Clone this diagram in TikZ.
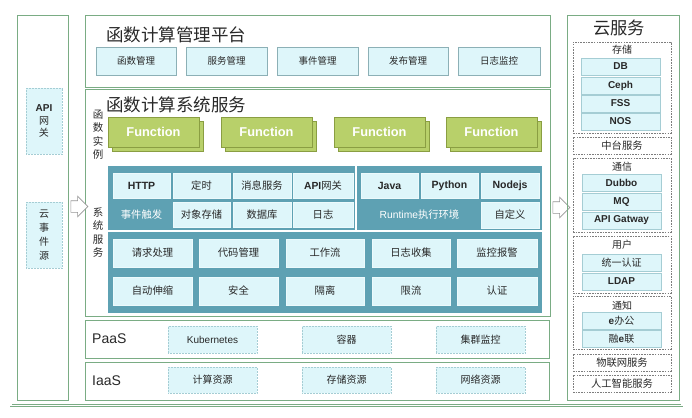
\documentclass[tikz,border=0pt]{standalone}
\usepackage{fontspec}
\setmainfont{Liberation Sans}
\newfontfamily\cjk{Noto Sans CJK SC}
\usetikzlibrary{shapes.arrows}
\definecolor{fg}{RGB}{122,172,132}
\definecolor{lc}{RGB}{222,246,250}
\definecolor{lcb}{RGB}{165,205,212}
\definecolor{mbd}{RGB}{140,176,182}
\definecolor{cellb}{RGB}{236,250,252}
\definecolor{teal2}{RGB}{94,161,179}
\definecolor{fn}{RGB}{184,208,106}
\definecolor{fnb}{RGB}{138,158,66}
\definecolor{txt}{RGB}{40,40,40}
\definecolor{dg}{RGB}{125,125,125}
\definecolor{ag}{RGB}{150,150,150}
\newcommand\zhtxt[1]{{\cjk\mdseries #1}}
\newcommand\rbox[7]{%
  \pgfmathsetmacro\rbw{#5-#3}\pgfmathsetmacro\rbh{#6-#4}%
  \pgfmathsetmacro\rbx{(#3+#5)/2}\pgfmathsetmacro\rby{(#4+#6)/2}%
  \node[#1,minimum width=\rbw pt,minimum height=\rbh pt] (#2) at (\rbx,\rby) {#7};}
\begin{document}
\begin{tikzpicture}[x=1pt,y=-1pt,
  every node/.style={text=txt, inner sep=1pt},
  dframe/.style={draw=fg, double=white, double distance=1.3pt, line width=0.6pt},
  frame/.style={draw=fg, line width=0.9pt},
  sidebox/.style={fill=lc, draw=lcb, densely dotted, line width=0.5pt, align=center},
  mbox/.style={fill=lc, draw=mbd, line width=0.5pt, font=\cjk\fontsize{9.5}{11}\selectfont},
  band/.style={fill=teal2, draw=none},
  cell/.style={fill=lc, draw=cellb, line width=0.4pt, font=\cjk\fontsize{10.3}{12}\selectfont},
  ecell/.style={cell, font=\bfseries\fontsize{10.5}{12}\selectfont},
  wtext/.style={text=white, font=\cjk\fontsize{10.3}{12}\selectfont},
  fnbox/.style={fill=fn, draw=fnb, line width=0.5pt, text=white, font=\bfseries\fontsize{12.8}{14}\selectfont},
  fnshadow/.style={fill=fn, draw=fnb, line width=0.5pt},
  pbox/.style={fill=lc, draw=lcb, densely dotted, line width=0.5pt, font=\cjk\fontsize{10}{12}\selectfont},
  grp/.style={draw=dg, dash pattern=on 1.6pt off 1.1pt, line width=0.5pt, font=\cjk\fontsize{10.3}{12}\selectfont},
  glabel/.style={font=\cjk\fontsize{10}{12}\selectfont, inner sep=0},
  cbox/.style={fill=lc, draw=lcb, line width=0.5pt, font=\bfseries\fontsize{10}{12}\selectfont},
  vlabel/.style={font=\cjk\fontsize{10.5}{13.5}\selectfont, align=center, inner sep=0},
  title/.style={font=\cjk\fontsize{17.5}{20}\selectfont, inner sep=0},
  hollow/.style={single arrow, draw=ag, fill=white, line width=0.6pt, inner xsep=0pt, inner ysep=5.5pt, minimum height=17pt, single arrow head extend=4.5pt}
]
\useasboundingbox (0,0) rectangle (692,417);

% outer frame and left column
\rbox{dframe}{outer}{11}{13}{682}{405.5}{}
\rbox{frame}{leftcol}{17}{15}{68}{400}{}
\rbox{sidebox,font=\fontsize{10}{12.5}\selectfont}{apigw}{26}{88}{62}{154}{\textbf{API}\\\zhtxt{网}\\\zhtxt{关}}
\rbox{sidebox,font=\cjk\fontsize{10}{14}\selectfont}{cloudev}{26}{202}{62}{268}{云\\事\\件\\源}

% management platform
\rbox{frame}{platform}{85}{15}{550}{87}{}
\node[title,anchor=west] (ptitle) at (106,34.5) {函数计算管理平台};
\rbox{mbox}{m1}{96}{47}{176}{75}{函数管理}
\rbox{mbox}{m2}{186}{47}{267}{75}{服务管理}
\rbox{mbox}{m3}{277}{47}{358}{75}{事件管理}
\rbox{mbox}{m4}{368}{47}{448}{75}{发布管理}
\rbox{mbox}{m5}{458}{47}{540}{75}{日志监控}

% system services
\rbox{frame}{system}{85}{89}{550}{316}{}
\node[title,anchor=west] (stitle) at (106,104.5) {函数计算系统服务};
\node[vlabel] (vl1) at (98,134.5) {函\\数\\实\\例};
\rbox{fnshadow}{fs1}{112}{121}{203}{151}{}
\rbox{fnbox}{f1}{108}{117}{199}{147}{Function}
\rbox{fnshadow}{fs2}{225}{121}{316}{151}{}
\rbox{fnbox}{f2}{221}{117}{312}{147}{Function}
\rbox{fnshadow}{fs3}{338}{121}{429}{151}{}
\rbox{fnbox}{f3}{334}{117}{425}{147}{Function}
\rbox{fnshadow}{fs4}{450}{121}{541}{151}{}
\rbox{fnbox}{f4}{446}{117}{537}{147}{Function}
\node[vlabel] (vl2) at (98,232.5) {系\\统\\服\\务};

\rbox{band}{bandA}{108}{166}{355}{230}{}
\rbox{band}{bandB}{357}{166}{542}{230}{}
\rbox{band}{bandC}{108}{231.5}{542}{313}{}

\rbox{ecell}{http}{113}{173}{170}{198}{HTTP}
\rbox{cell}{timer}{173}{173}{230}{198}{定时}
\rbox{cell}{msg}{233}{173}{291}{198}{消息服务}
\rbox{cell}{apic}{293}{173}{353}{198}{\textbf{\rmfamily API}网关}
\node[wtext] (trig) at (141.5,214.5) {事件触发};
\rbox{cell}{obj}{173}{202}{230}{227}{对象存储}
\rbox{cell}{dbc}{233}{202}{291}{227}{数据库}
\rbox{cell}{logc}{293}{202}{353}{227}{日志}

\rbox{ecell}{java}{361}{173}{418}{198}{Java}
\rbox{ecell}{python}{421}{173}{478}{198}{Python}
\rbox{ecell}{nodejs}{481}{173}{539}{198}{Nodejs}
\node[wtext,font=\fontsize{10.3}{12}\selectfont] (rt) at (419.5,214.5) {Runtime\zhtxt{执行环境}};
\rbox{cell}{custom}{481}{202}{539}{228}{自定义}

\rbox{cell}{b1}{113}{239}{192}{267}{请求处理}
\rbox{cell}{b2}{199}{239}{278}{267}{代码管理}
\rbox{cell}{b3}{286}{239}{364}{267}{工作流}
\rbox{cell}{b4}{372}{239}{450}{267}{日志收集}
\rbox{cell}{b5}{457}{239}{537}{267}{监控报警}
\rbox{cell}{b6}{113}{277}{192}{305}{自动伸缩}
\rbox{cell}{b7}{199}{277}{278}{305}{安全}
\rbox{cell}{b8}{286}{277}{364}{305}{隔离}
\rbox{cell}{b9}{372}{277}{450}{305}{限流}
\rbox{cell}{b10}{457}{277}{537}{305}{认证}

% PaaS / IaaS
\rbox{frame}{paas}{85}{320}{549}{358}{}
\node[anchor=west,inner sep=0,font=\fontsize{14}{16}\selectfont] (paasl) at (92,339) {PaaS};
\rbox{pbox,font=\fontsize{10}{12}\selectfont}{k8s}{168}{326}{257}{353}{Kubernetes}
\rbox{pbox}{ctr}{302}{326}{391}{353}{容器}
\rbox{pbox}{cmon}{436}{326}{525}{353}{集群监控}
\rbox{frame}{iaas}{85}{362}{549}{400}{}
\node[anchor=west,inner sep=0,font=\fontsize{14}{16}\selectfont] (iaasl) at (92,381) {IaaS};
\rbox{pbox}{comp}{168}{367}{257}{393}{计算资源}
\rbox{pbox}{stor}{302}{367}{391}{393}{存储资源}
\rbox{pbox}{net}{436}{367}{525}{393}{网络资源}

% arrows
\node[hollow] (arrL) at (76.5,206.5) {};
\node[hollow] (arrR) at (558.5,207.5) {};

% cloud services
\rbox{frame}{cloud}{567}{15}{679}{400}{}
\node[title,font=\cjk\fontsize{17.3}{20}\selectfont] (ctitle) at (619,27.5) {云服务};
\rbox{grp}{gstore}{573}{42}{671}{133}{}
\node[glabel] (lstore) at (622,50) {存储};
\rbox{cbox}{cdb}{581}{58}{660}{75}{DB}
\rbox{cbox}{cceph}{581}{77}{660}{94}{Ceph}
\rbox{cbox}{cfss}{581}{95}{660}{112}{FSS}
\rbox{cbox}{cnos}{581}{113}{660}{130}{NOS}
\rbox{grp}{gmid}{573}{137}{671}{154}{中台服务}
\rbox{grp}{gcomm}{573}{158}{671}{232}{}
\node[glabel] (lcomm) at (622,166.5) {通信};
\rbox{cbox}{cdubbo}{582}{174}{661}{191}{Dubbo}
\rbox{cbox}{cmq}{582}{193}{661}{210}{MQ}
\rbox{cbox}{capi}{582}{212}{661}{229}{API Gatway}
\rbox{grp}{guser}{573}{236}{671}{293}{}
\node[glabel] (luser) at (622,245) {用户};
\rbox{cbox}{cauth}{582}{254}{661}{271}{\zhtxt{统一认证}}
\rbox{cbox}{cldap}{582}{273}{661}{290}{LDAP}
\rbox{grp}{gnote}{573}{296}{671}{349}{}
\node[glabel] (lnote) at (622,305.5) {通知};
\rbox{cbox}{coff}{582}{312}{661}{329}{e\zhtxt{办公}}
\rbox{cbox}{crong}{582}{330}{661}{347}{\zhtxt{融}e\zhtxt{联}}
\rbox{grp}{giot}{573}{354}{671}{371}{物联网服务}
\rbox{grp}{gai}{573}{375}{671}{392}{人工智能服务}
\end{tikzpicture}
\end{document}
